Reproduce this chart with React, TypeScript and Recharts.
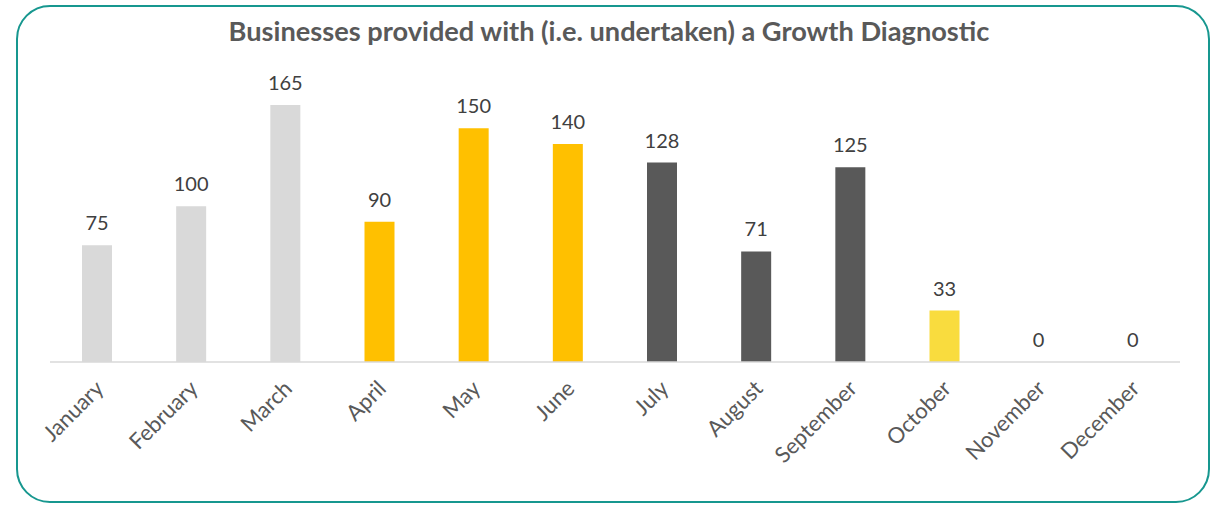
import React from "react";
import { BarChart, Bar, XAxis, YAxis, Cell, LabelList } from "recharts";

const months = ["January", "February", "March", "April", "May", "June", "July", "August", "September", "October", "November", "December"];
const businesses = [75, 100, 165, 90, 150, 140, 128, 71, 125, 33, 0, 0];
const barColors = ["#D9D9D9", "#D9D9D9", "#D9D9D9", "#FFC000", "#FFC000", "#FFC000", "#595959", "#595959", "#595959", "#F9DC3E", "#595959", "#595959"];

const data = months.map((m, i) => ({ month: m, value: businesses[i] }));

const FONT = "Lato, 'Open Sans', sans-serif";

const Tick = (props: any) => {
  const { x, y, payload } = props;
  return (
    <g transform={`translate(${x + 3},${y + 15})`}>
      <text transform="rotate(-45)" textAnchor="end" fill="#595959" fontSize={22} fontFamily={FONT} dy={7}>
        {payload.value}
      </text>
    </g>
  );
};

const ValueLabel = (props: any) => {
  const { x, y, width, value } = props;
  return (
    <text x={x + width / 2} y={y - 15} textAnchor="middle" fill="#404040" fontSize={20} fontFamily={FONT}>
      {value}
    </text>
  );
};

export default function App() {
  return (
    <div style={{ position: "absolute", left: 0, top: 0, width: 1223, height: 505, background: "#fff" }}>
      <div
        style={{
          position: "absolute",
          left: 16,
          top: 5,
          width: 1194,
          height: 498,
          border: "2.5px solid #17978F",
          borderRadius: 34,
          boxSizing: "border-box",
        }}
      />
      <div
        style={{
          position: "absolute",
          left: 0,
          top: 14,
          width: 1218,
          textAlign: "center",
          fontFamily: FONT,
          fontWeight: 700,
          fontSize: 27.2,
          color: "#595959",
        }}
      >
        Businesses provided with (i.e. undertaken) a Growth Diagnostic
      </div>
      <div style={{ position: "absolute", left: 0, top: 0 }}>
        <BarChart width={1223} height={505} data={data} margin={{ top: 81.6, right: 43, left: 50, bottom: 0 }} barSize={30}>
          <YAxis hide domain={[0, 180]} />
          <XAxis
            dataKey="month"
            axisLine={{ stroke: "#D9D9D9", strokeWidth: 1.5 }}
            tickLine={false}
            interval={0}
            tick={<Tick />}
            height={143}
          />
          <Bar dataKey="value" isAnimationActive={false} minPointSize={0.01}>
            {data.map((d, i) => (
              <Cell key={d.month} fill={barColors[i]} />
            ))}
            <LabelList dataKey="value" content={<ValueLabel />} />
          </Bar>
        </BarChart>
      </div>
    </div>
  );
}
